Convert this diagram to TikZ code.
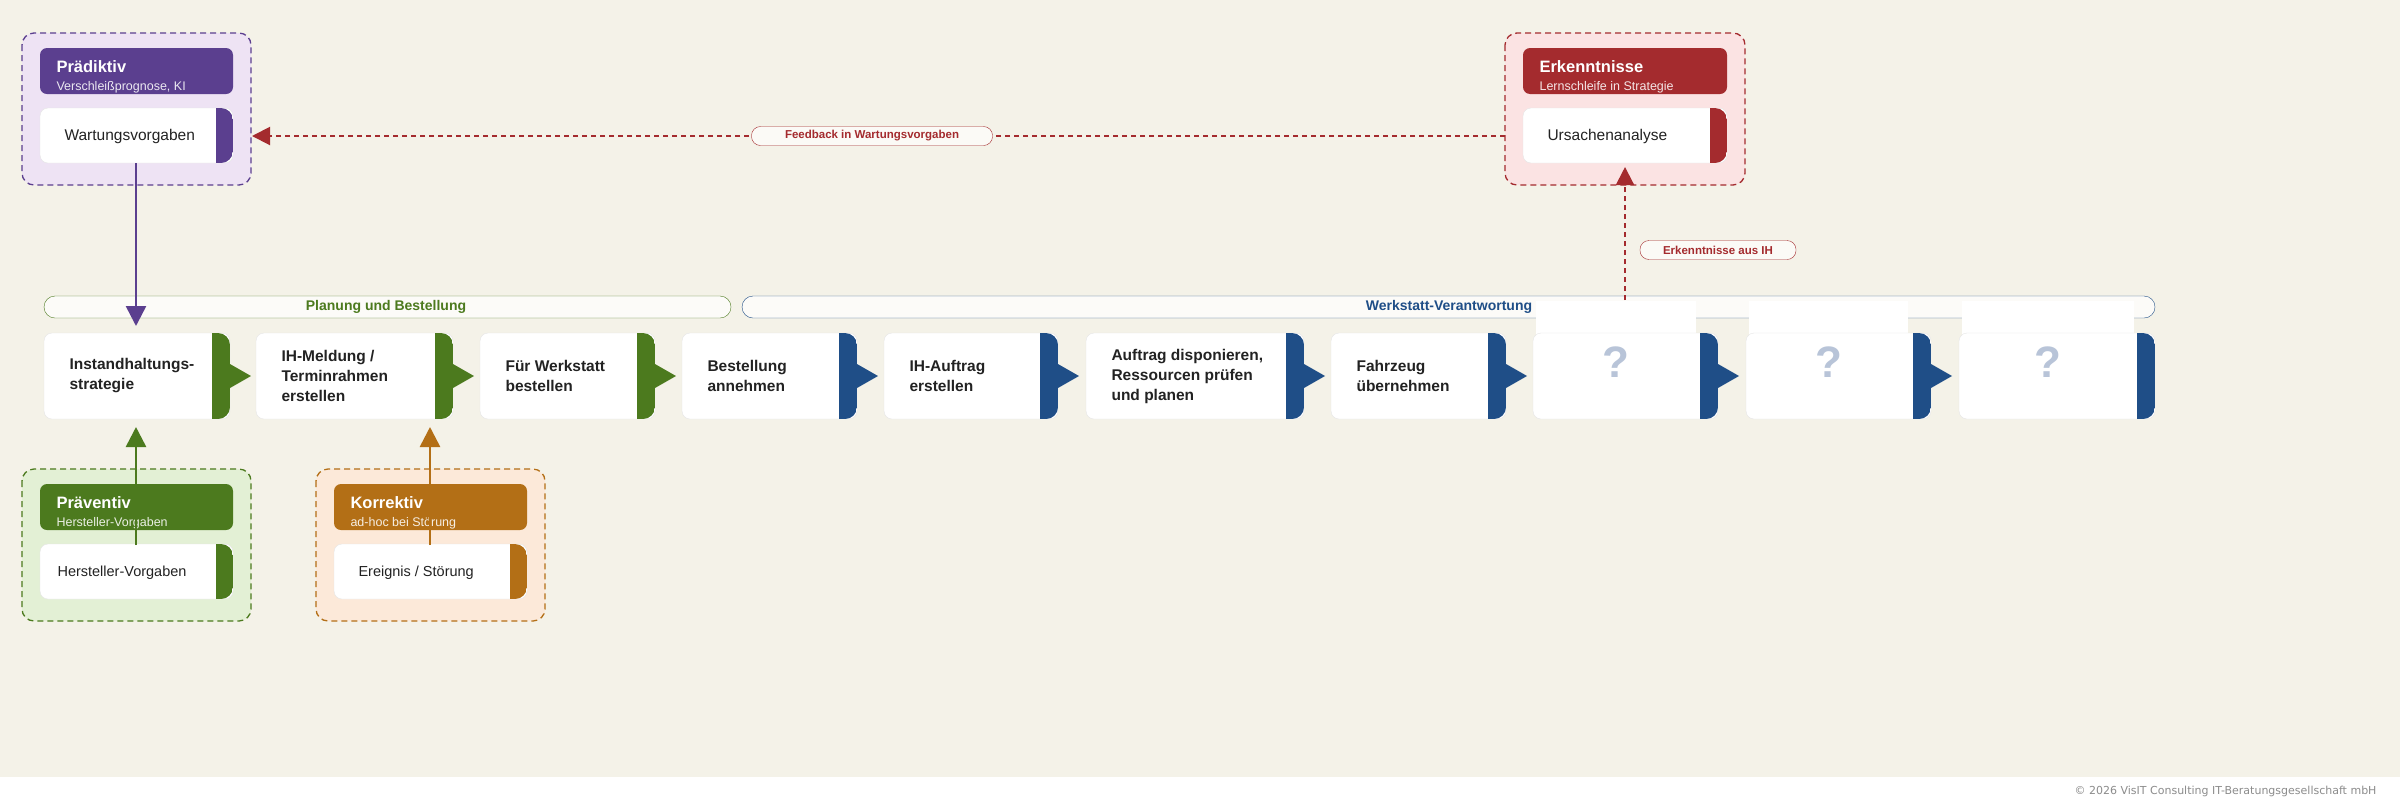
\documentclass[tikz,border=0pt]{standalone}
\usepackage{fontspec}
\usetikzlibrary{arrows.meta}
\setmainfont{Liberation Sans}
\newfontfamily\foot{DejaVu Sans}
\definecolor{bg}{HTML}{F4F2E8}
\definecolor{pur}{HTML}{5B3F8F}
\definecolor{purl}{HTML}{EEE3F4}
\definecolor{red}{HTML}{A42B2E}
\definecolor{redl}{HTML}{FBE3E3}
\definecolor{grn}{HTML}{4C7A1E}
\definecolor{grnl}{HTML}{E3F0D5}
\definecolor{org}{HTML}{B36F16}
\definecolor{orgl}{HTML}{FCE9D9}
\definecolor{blu}{HTML}{1F4E87}
\definecolor{qm}{HTML}{B8C4D8}
\definecolor{txt}{HTML}{222222}
\newcommand\mybox[6]{% name, x1, x2, color, text, arrow(1/0)
  \node[draw=black!10,fill=white,rounded corners=8,minimum width=#3-#2,minimum height=86,inner sep=0] (#1) at ({(#2+#3)/2},376) {};
  \begin{scope}\clip[rounded corners=12] (#2,333) rectangle (#3,419);
  \fill[#4] (#3-18,333) rectangle (#3,419);\end{scope}
  \ifnum#6=1 \fill[#4] (#3,364)--(#3+21,376)--(#3,388)--cycle;\fi
  \node[anchor=west,align=left,font=\bfseries\fontsize{15.5}{20}\selectfont,text=txt] at (#2+22,376) {#5};
}
\def\gw{229}
\newcommand\grp[8]{% name,x1,y1 top,color,light,title,subtitle,itemname
  \fill[#5,rounded corners=12] (#2,#3) rectangle (#2+\gw,#3+152);
  \draw[#4,dashed,line width=1.3,dash pattern=on 6 off 4,rounded corners=12] (#2,#3) rectangle (#2+\gw,#3+152);
  \node[fill=#4,rounded corners=7,minimum width=\gw-36,minimum height=46,inner sep=0] (#1) at (#2+\gw/2,#3+38) {};
  \node[anchor=west,text=white,font=\bfseries\fontsize{16.5}{18}\selectfont] at (#2+31,#3+34) {#6};
  \node[anchor=west,text=white!88!#4,font=\fontsize{12.5}{14}\selectfont] at (#2+31,#3+54) {#7};
  \node[draw=black!10,fill=white,rounded corners=8,minimum width=\gw-36,minimum height=55,inner sep=0] (#8) at (#2+\gw/2,#3+102.5) {};
  \begin{scope}\clip[rounded corners=12] (#2+18,#3+75) rectangle (#2+\gw-18,#3+130);
  \fill[#4] (#2+\gw-35,#3+75) rectangle (#2+\gw-18,#3+130);\end{scope}
}
\begin{document}
\begin{tikzpicture}[x=1pt,y=-1pt,
  pill/.style={draw=#1,fill=bg!40!white,rounded corners=9,minimum height=19,inner sep=0,text=#1,font=\bfseries\fontsize{11.5}{13}\selectfont},
  bar/.style={draw=#1,fill=bg!30!white,rounded corners=11,minimum height=22,inner sep=0}]
\useasboundingbox (0,0) rectangle (2400,807);
\fill[bg] (0,0) rectangle (2400,777);
\fill[white] (0,777) rectangle (2400,807);
\node[anchor=east,text=black!45,font=\foot\fontsize{11}{13}\selectfont] (foot) at (2380,791) {© 2026 VisIT Consulting IT-Beratungsgesellschaft mbH};
% bars
\node[bar=grn,minimum width=687] (b1) at (387.5,307) {};
\node[text=grn,font=\bfseries\fontsize{14}{15}\selectfont] (b1t) at (386,307) {Planung und Bestellung};
\node[bar=blu,minimum width=1413] (b2) at (1448.5,307) {};
\node[text=blu,font=\bfseries\fontsize{14}{15}\selectfont] (b2t) at (1449,307) {Werkstatt-Verantwortung};
\fill[white] (1536,301) rectangle (1696,335);
\fill[white] (1749,301) rectangle (1908,335);
\fill[white] (1962,301) rectangle (2134,335);
% process
\mybox{p1}{44}{230}{grn}{Instandhaltungs-\\strategie}{1}
\mybox{p2}{256}{453}{grn}{IH-Meldung /\\Terminrahmen\\erstellen}{1}
\mybox{p3}{480}{655}{grn}{Für Werkstatt\\bestellen}{1}
\mybox{p4}{682}{857}{blu}{Bestellung\\annehmen}{1}
\mybox{p5}{884}{1058}{blu}{IH-Auftrag\\erstellen}{1}
\mybox{p6}{1086}{1304}{blu}{Auftrag disponieren,\\Ressourcen prüfen\\und planen}{1}
\mybox{p7}{1331}{1506}{blu}{Fahrzeug\\übernehmen}{1}
\mybox{p8}{1533}{1718}{blu}{}{1}
\mybox{p9}{1746}{1931}{blu}{}{1}
\mybox{p10}{1959}{2155}{blu}{}{0}
\foreach \x/\n in {1616/q1,1829/q2,2048/q3}
  \node[text=qm,font=\bfseries\fontsize{44}{44}\selectfont] (\n) at (\x,362) {?};
% groups
\grp{hp}{22}{33}{pur}{purl}{Prädiktiv}{Verschleißprognose, KI}{wv}
\node[anchor=west,text=txt,font=\fontsize{15.5}{17}\selectfont] at (61,136) {Wartungsvorgaben};
\def\gw{240}
\grp{he}{1505}{33}{red}{redl}{Erkenntnisse}{Lernschleife in Strategie}{ua}
\node[anchor=west,text=txt,font=\fontsize{15.5}{17}\selectfont] at (1544,136) {Ursachenanalyse};
\def\gw{229}
\grp{hv}{22}{469}{grn}{grnl}{Präventiv}{Hersteller-Vorgaben}{hv2}
\node[anchor=west,text=txt,font=\fontsize{14.5}{17}\selectfont] at (54,573) {Hersteller-Vorgaben};
\grp{hk}{316}{469}{org}{orgl}{Korrektiv}{ad-hoc bei Störung}{ek}
\node[anchor=west,text=txt,font=\fontsize{14.5}{17}\selectfont] at (355,573) {Ereignis / Störung};
% connectors
\coordinate (wvb) at (136,163);
\coordinate (p1t) at (136,326);
\draw[pur,line width=2.6,-{Triangle[length=20,width=20]}] (wvb) -- (p1t);
\draw[grn,line width=2.6,-{Triangle[length=20,width=20]}] (136,545) -- (136,427);
\draw[org,line width=2.6,-{Triangle[length=20,width=20]}] (430,545) -- (430,427);
\coordinate (fbs) at (1505,136);
\coordinate (fbe) at (252,136);
\draw[red,line width=2,dash pattern=on 5 off 4,-{Triangle[length=18,width=18]}] (fbs) -- (fbe);
\node[pill=red,minimum width=241] (fl) at (872,136) {Feedback in Wartungsvorgaben};
\coordinate (ehs) at (1625,300);
\coordinate (ehe) at (1625,167);
\draw[red,line width=2,dash pattern=on 5 off 4,-{Triangle[length=18,width=18]}] (ehs) -- (ehe);
\node[pill=red,minimum width=156] (el) at (1718,250) {Erkenntnisse aus IH};
\end{tikzpicture}
\end{document}
